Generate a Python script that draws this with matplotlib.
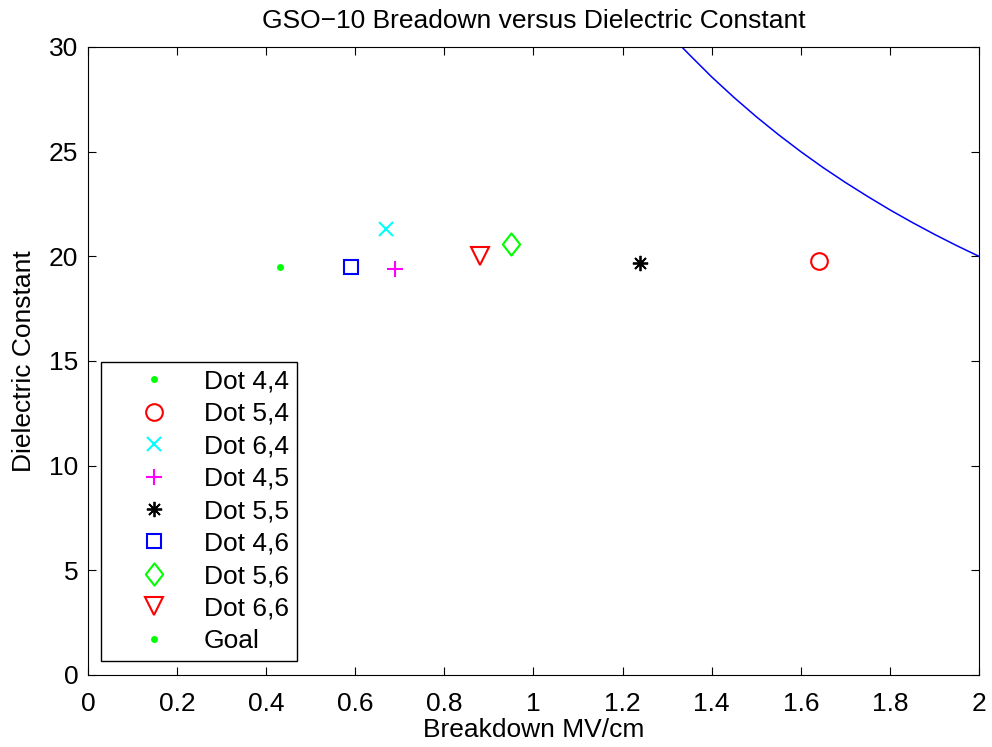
import matplotlib.pyplot as plt
from matplotlib.path import Path

plt.rcParams["font.family"] = ["Liberation Sans", "DejaVu Sans"]
plt.rcParams["font.size"] = 19

# measured points: breakdown (MV/cm), dielectric constant
labels = ["Dot 4,4", "Dot 5,4", "Dot 6,4", "Dot 4,5", "Dot 5,5", "Dot 4,6", "Dot 5,6", "Dot 6,6"]
breakdown = [0.43, 1.64, 0.67, 0.69, 1.24, 0.59, 0.95, 0.88]
dielectric = [19.5, 19.8, 21.3, 19.4, 19.7, 19.5, 20.6, 20.0]

# goal curve
goal_x = [1.333, 1.35, 1.40, 1.45, 1.50, 1.55, 1.60, 1.65, 1.70, 1.75, 1.80, 1.85, 1.90, 1.95, 2.00]
goal_y = [30.0, 29.63, 28.57, 27.59, 26.67, 25.81, 25.0, 24.24, 23.53, 22.86, 22.22, 21.62, 21.05, 20.51, 20.0]

xticks = [0, 0.2, 0.4, 0.6, 0.8, 1, 1.2, 1.4, 1.6, 1.8, 2]
xticklabels = ["0", "0.2", "0.4", "0.6", "0.8", "1", "1.2", "1.4", "1.6", "1.8", "2"]
yticks = [0, 5, 10, 15, 20, 25, 30]

diamond = Path([(-0.78, 0), (0, 1), (0.78, 0), (0, -1), (-0.78, 0)], closed=True)
asterisk = (8, 2, 0)

styles = [
    dict(marker="o", color="#00ff00", ms=5, mew=0),
    dict(marker="o", color="#ff0000", ms=12, mfc="none", mew=1.5),
    dict(marker="x", color="#00ffff", ms=9.5, mew=1.5),
    dict(marker="+", color="#ff00ff", ms=12, mew=1.5),
    dict(marker=asterisk, color="black", ms=11, mew=1.3),
    dict(marker="s", color="#0000ff", ms=10, mfc="none", mew=1.5),
    dict(marker=diamond, color="#00ff00", ms=16, mfc="none", mew=1.5),
    dict(marker="v", color="#ff0000", ms=13, mfc="none", mew=1.5),
]

fig = plt.figure(figsize=(9.92, 7.47), dpi=100)
ax = fig.add_axes([0.0887, 0.0964, 0.8982, 0.8407])

for lab, x, y, st in zip(labels, breakdown, dielectric, styles):
    ax.plot([x], [y], linestyle="none", label=lab, **st)

ax.plot(goal_x, goal_y, color="#0000ff", lw=1.1)
# legend entry for goal is a green point, as in the original
ax.plot([], [], linestyle="none", marker="o", color="#00ff00", ms=5, mew=0, label="Goal")

ax.set_xlim(0, 2)
ax.set_ylim(0, 30)
ax.set_xticks(xticks)
ax.set_xticklabels(xticklabels)
ax.set_yticks(yticks)
ax.tick_params(direction="in", length=6, width=0.8, top=True, right=True)
ax.tick_params(axis="x", pad=12)
ax.tick_params(axis="y", pad=7)
for s in ax.spines.values():
    s.set_linewidth(0.8)

ax.set_title("GSO\u221210 Breadown versus Dielectric Constant", fontsize=19, pad=14)
ax.set_xlabel("Breakdown MV/cm", labelpad=2)
ax.set_ylabel("Dielectric Constant", labelpad=9)

leg = ax.legend(
    loc="lower left",
    bbox_to_anchor=(0.0143, 0.0223),
    borderaxespad=0,
    fancybox=False,
    framealpha=1,
    edgecolor="black",
    handlelength=3.4,
    handletextpad=0.2,
    borderpad=0.3,
    labelspacing=0.32,
)
leg.get_frame().set_linewidth(1.0)

fig.savefig("out.png", dpi=100)
